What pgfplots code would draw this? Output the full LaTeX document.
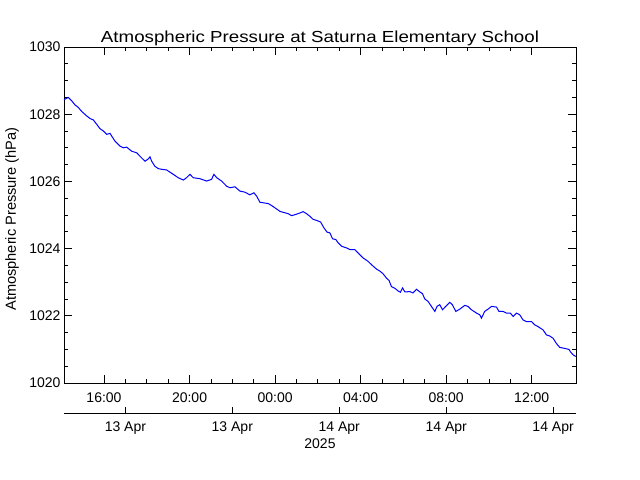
\documentclass[border=0pt]{standalone}
\usepackage{fontspec}
\setmainfont{Liberation Sans}
\usepackage{pgfplots}
\pgfplotsset{compat=1.18}
\begin{document}
\begin{tikzpicture}
\useasboundingbox (-64bp,-97bp) rectangle (576bp,383bp);
\begin{axis}[
  at={(0,0)}, anchor=south west,
  scale only axis, width=512bp, height=336bp,
  xmin=14.13, xmax=38.07, ymin=1020, ymax=1030,
  xtick={16,20,24,28,32,36},
  xticklabels={16:00,20:00,00:00,04:00,08:00,12:00},
  ytick={1020,1022,1024,1026,1028,1030},
  yticklabels={1020,1022,1024,1026,1028,1030},
  minor x tick num=3, minor y tick num=3,
  tick align=inside,
  major tick length=8bp, minor tick length=4bp,
  axis line style={line width=0.8bp},
  every tick/.style={black, line width=0.8bp},
  tick label style={font=\fontsize{14bp}{16bp}\selectfont},
  xticklabel style={yshift=-6bp},
  title={\scalebox{1.17}[1]{Atmospheric Pressure at Saturna Elementary School}},
  title style={font=\fontsize{16bp}{19bp}\selectfont, yshift=-8bp},
  ylabel={Atmospheric Pressure (hPa)},
  every axis y label/.style={at={(axis description cs:0,0.5)}, anchor=center,
     xshift=-52bp, yshift=-4bp, rotate=90,
     font=\fontsize{14.6bp}{17bp}\selectfont},
]
\addplot[blue, line width=1bp] coordinates {
(14.13,1028.43) (14.18,1028.45) (14.33,1028.50) (14.49,1028.40) (14.64,1028.28)
(14.80,1028.20) (14.96,1028.08) (15.19,1027.95) (15.35,1027.87) (15.50,1027.83)
(15.66,1027.70) (15.81,1027.57) (15.97,1027.50) (16.13,1027.40) (16.28,1027.43)
(16.36,1027.35) (16.51,1027.20) (16.75,1027.05) (16.90,1027.00) (17.06,1027.02)
(17.29,1026.90) (17.53,1026.85) (17.68,1026.75) (17.92,1026.60) (18.07,1026.67)
(18.15,1026.73) (18.23,1026.60) (18.38,1026.45) (18.54,1026.38) (18.70,1026.36)
(18.93,1026.34) (19.24,1026.21) (19.47,1026.11) (19.71,1026.04) (19.86,1026.11)
(20.02,1026.21) (20.17,1026.11) (20.49,1026.08) (20.80,1026.01) (21.03,1026.06)
(21.14,1026.21) (21.27,1026.11) (21.50,1026.01) (21.73,1025.86) (21.89,1025.81)
(22.12,1025.84) (22.36,1025.71) (22.59,1025.68) (22.82,1025.60) (23.01,1025.66)
(23.14,1025.56) (23.29,1025.38) (23.48,1025.36) (23.68,1025.34) (23.84,1025.28)
(24.07,1025.18) (24.22,1025.11) (24.38,1025.08) (24.61,1025.04) (24.77,1024.98)
(24.93,1025.01) (25.16,1025.06) (25.31,1025.10) (25.47,1025.04) (25.63,1024.96)
(25.78,1024.87) (25.94,1024.84) (26.13,1024.79) (26.28,1024.62) (26.43,1024.49)
(26.56,1024.47) (26.69,1024.29) (26.84,1024.27) (26.95,1024.17) (27.11,1024.07)
(27.34,1024.02) (27.50,1023.97) (27.73,1023.97) (27.88,1023.87) (28.12,1023.72)
(28.35,1023.62) (28.51,1023.52) (28.74,1023.39) (28.90,1023.33) (29.05,1023.25)
(29.21,1023.12) (29.33,1023.05) (29.44,1022.87) (29.60,1022.82) (29.75,1022.74)
(29.86,1022.70) (29.96,1022.83) (30.07,1022.71) (30.30,1022.72) (30.45,1022.68)
(30.61,1022.79) (30.77,1022.71) (30.89,1022.66) (31.00,1022.50) (31.15,1022.43)
(31.31,1022.28) (31.47,1022.13) (31.57,1022.28) (31.70,1022.33) (31.83,1022.18)
(32.01,1022.30) (32.17,1022.40) (32.29,1022.33) (32.45,1022.13) (32.64,1022.20)
(32.87,1022.31) (33.02,1022.28) (33.18,1022.18) (33.42,1022.08) (33.57,1022.03)
(33.65,1021.93) (33.80,1022.13) (33.96,1022.20) (34.12,1022.28) (34.35,1022.26)
(34.47,1022.13) (34.66,1022.13) (34.82,1022.08) (35.00,1022.08) (35.13,1021.98)
(35.29,1022.08) (35.44,1022.03) (35.59,1021.88) (35.75,1021.83) (35.99,1021.83)
(36.14,1021.73) (36.29,1021.68) (36.53,1021.58) (36.69,1021.43) (36.84,1021.40)
(37.00,1021.33) (37.15,1021.18) (37.31,1021.06) (37.54,1021.03) (37.74,1021.00)
(37.81,1020.93) (37.93,1020.84) (38.06,1020.79)
};
\end{axis}
\begin{axis}[
  at={(0,-30bp)}, anchor=south west,
  scale only axis, width=512bp, height=10bp,
  xmin=14.13, xmax=38.07, ymin=0, ymax=1,
  axis y line=none, axis x line=bottom,
  x axis line style={-, line width=0.8bp},
  every tick/.style={black, line width=0.8bp},
  xtick={17,22,27,32,37},
  xticklabels={13 Apr,13 Apr,14 Apr,14 Apr,14 Apr},
  tick align=inside, major tick length=6bp,
  minor x tick num=0,
  tick label style={font=\fontsize{14bp}{16bp}\selectfont},
  xticklabel style={yshift=-5bp},
  xlabel={2025},
  xlabel style={font=\fontsize{14bp}{16bp}\selectfont, yshift=2bp},
]
\addplot[draw=none] coordinates {(20,0.5)};
\end{axis}
\end{tikzpicture}
\end{document}
